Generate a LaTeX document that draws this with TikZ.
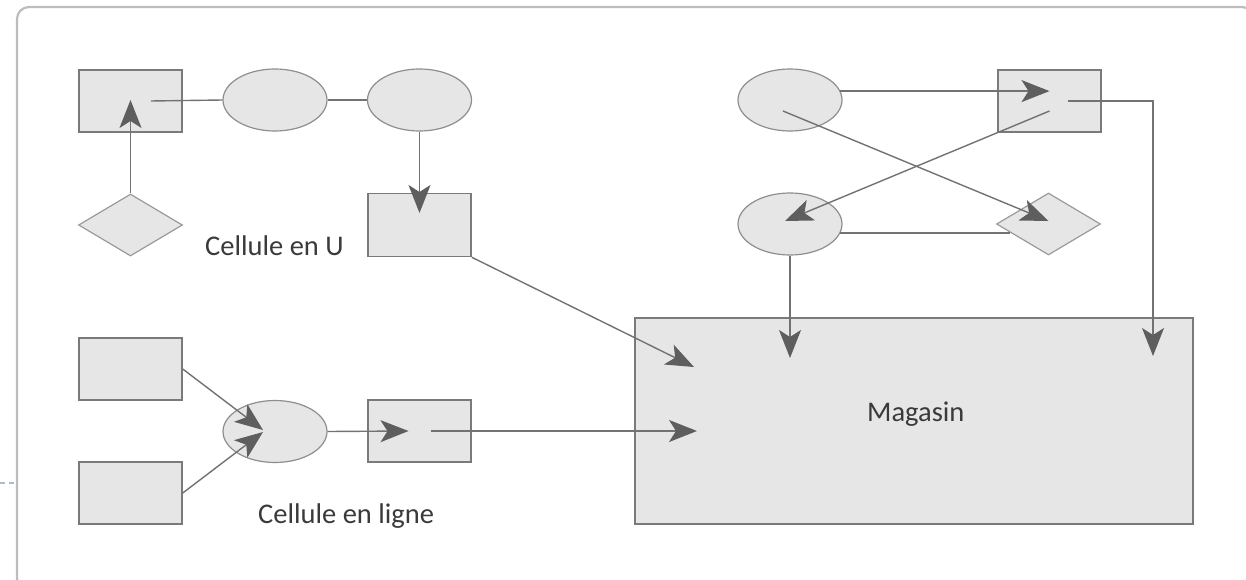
\documentclass[tikz,border=0pt]{standalone}
\usepackage{fontspec}
\setmainfont{Carlito}
\usetikzlibrary{arrows.meta,shapes.geometric,calc}
\definecolor{boxfill}{HTML}{E6E6E6}
\definecolor{boxline}{HTML}{7A7A7A}
\definecolor{ellline}{HTML}{8E8E8E}
\definecolor{diaLine}{HTML}{9A9A9A}
\definecolor{conn}{HTML}{727272}
\definecolor{tipcol}{HTML}{5E5E5E}
\definecolor{framecol}{HTML}{BDBDBD}
\definecolor{dashblue}{HTML}{A9BDD2}
\definecolor{txt}{HTML}{3A3A3A}
\tikzset{
  box/.style={draw=boxline, fill=boxfill, line width=1.5pt, rectangle, inner sep=0pt, minimum width=103pt, minimum height=62pt},
  ell/.style={draw=ellline, fill=boxfill, line width=1.2pt, ellipse, inner sep=0pt, minimum width=104pt, minimum height=62pt},
  dia/.style={draw=diaLine, fill=boxfill, line width=1.2pt, diamond, inner sep=0pt, minimum width=104pt, minimum height=62pt},
  conline/.style={draw=conn, line width=1.4pt},
  arr/.style={conline, -{Stealth[length=28pt, width=22pt, inset=7pt, fill=tipcol, color=tipcol]}},
  lbl/.style={text=txt, font=\fontsize{28.5}{30}\selectfont, inner sep=0pt},
}
\begin{document}
\begin{tikzpicture}[x=1pt, y=-1pt]
\useasboundingbox (0,0) rectangle (1246,580);
\clip (0,0) rectangle (1246,580);
% outer frame and dashed mark
\draw[draw=framecol, line width=2.2pt, rounded corners=12pt] (17,7) rectangle (1254,590);
\draw[draw=dashblue, line width=1.2pt, dash pattern=on 5pt off 4pt] (0,483) -- (15,483);

% U cell
\node[box] (A) at (130.5,101) {};
\node[ell] (B) at (275,100) {};
\node[ell] (C) at (419.5,100) {};
\node[dia] (D) at (130.5,225) {};
\node[box, minimum height=63pt] (E) at (419.5,225) {};
\node[lbl, anchor=base west] (lu) at (205,255) {Cellule en U};

% line cell
\node[box] (J) at (130.5,369) {};
\node[box] (K) at (130.5,493) {};
\node[ell] (L) at (275,431.5) {};
\node[box] (M) at (419.5,431) {};
\node[lbl, anchor=base west] (ll) at (258,523) {Cellule en ligne};

% right cluster
\node[ell] (F) at (790,100) {};
\node[box] (G) at (1049.5,101) {};
\node[ell] (H) at (790,224) {};
\node[dia] (I) at (1048.5,224) {};

% store
\node[box, minimum width=558pt, minimum height=206pt] (S) at (914,421) {};
\node[lbl, anchor=base west] (ls) at (867,421) {Magasin};

% arrow tips inside the store
\coordinate (t1) at (694,367);
\coordinate (t2) at (697,431);
\coordinate (t3) at (790,358);
\coordinate (t4) at (1153,356);

% U cell connectors
\draw[arr] (D.north) -- ([yshift=1pt]A.center);
\draw[conline] ([xshift=20.5pt]A.center) -- (B.west);
\draw[conline] (B.east) -- (C.west);
\draw[arr] (C.south) -- ([yshift=12pt]E.center);
\draw[arr] (E.south east) -- (t1);

% line cell connectors
\draw[arr] (J.east) -- ([xshift=-12pt,yshift=1.5pt]L.center);
\draw[arr] (K.east) -- ([xshift=-12pt,yshift=-0.5pt]L.center);
\draw[arr] (L.east) -- ([xshift=-11pt]M.center);
\draw[arr] ([xshift=11pt]M.center) -- (t2);

% right cluster connectors
\draw[arr] (F.10) -- (F.10 -| G.center);
\draw[arr] ([xshift=-7pt,yshift=-11pt]F.center) -- ([yshift=3pt]I.center);
\draw[arr] ([yshift=-10pt]G.center) -- ([xshift=-5pt,yshift=3pt]H.center);
\draw[conline] (H.-10) -- ($(I.west |- H.-10)+(14,0)$);
\draw[arr] (H.south) -- (H.south |- t3);
\draw[arr] ([xshift=18pt]G.center) -| (t4);
\end{tikzpicture}
\end{document}
